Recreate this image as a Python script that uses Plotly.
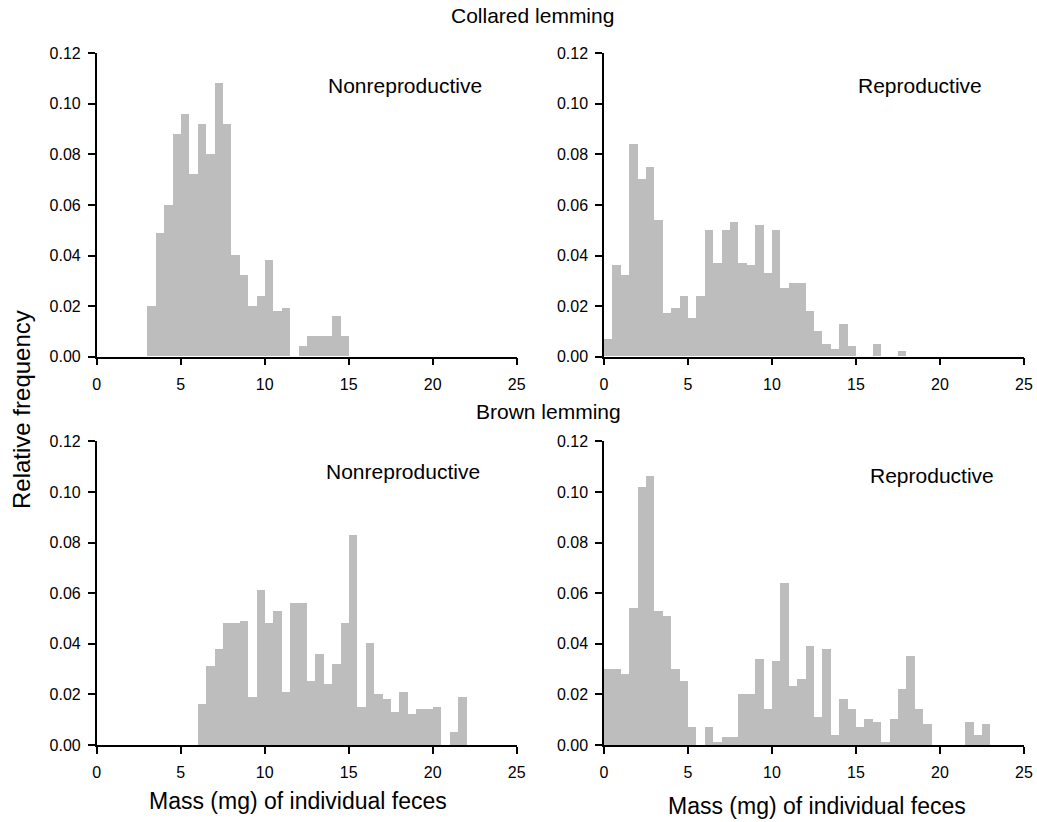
import plotly.graph_objects as go

# ---- data: relative frequency per 0.5 mg bin, bins starting at 0 mg ----
bin_width = 0.5
collared_nonrepro = [0, 0, 0, 0, 0, 0,
                     0.020, 0.049, 0.060, 0.088, 0.096, 0.072, 0.092, 0.080, 0.108, 0.092,
                     0.040, 0.032, 0.020, 0.024, 0.038, 0.018, 0.019, 0, 0.004, 0.008,
                     0.008, 0.008, 0.016, 0.008]
collared_repro = [0.007, 0.036, 0.032, 0.084, 0.070, 0.075, 0.054, 0.017, 0.019, 0.024,
                  0.015, 0.024, 0.050, 0.037, 0.050, 0.053, 0.037, 0.036, 0.052, 0.033,
                  0.050, 0.027, 0.029, 0.029, 0.018, 0.010, 0.005, 0.003, 0.013, 0.004,
                  0, 0, 0.005, 0, 0, 0.002]
brown_nonrepro = [0, 0, 0, 0, 0, 0, 0, 0, 0, 0, 0, 0,
                  0.016, 0.031, 0.038, 0.048, 0.048, 0.049, 0.019, 0.061, 0.048, 0.053,
                  0.021, 0.056, 0.056, 0.025, 0.036, 0.024, 0.032, 0.048, 0.083, 0.015,
                  0.040, 0.020, 0.018, 0.013, 0.021, 0.012, 0.014, 0.014, 0.015, 0,
                  0.005, 0.019]
brown_repro = [0.030, 0.030, 0.028, 0.054, 0.102, 0.106, 0.053, 0.051, 0.030, 0.025,
               0.007, 0, 0.007, 0.001, 0.003, 0.003, 0.020, 0.020, 0.034, 0.014,
               0.033, 0.064, 0.023, 0.026, 0.039, 0.011, 0.038, 0.004, 0.018, 0.014,
               0.007, 0.010, 0.009, 0.001, 0.010, 0.022, 0.035, 0.014, 0.008, 0,
               0, 0, 0, 0.009, 0.004, 0.008]

x_ticks = [0, 5, 10, 15, 20, 25]
y_ticks = [0.00, 0.02, 0.04, 0.06, 0.08, 0.10, 0.12]
panel_labels = ["Nonreproductive", "Reproductive", "Nonreproductive", "Reproductive"]
group_titles = ["Collared lemming", "Brown lemming"]
x_title = "Mass (mg) of individual feces"
y_title = "Relative frequency"

W, H = 1037, 822
FONT = "Liberation Sans, Arial, sans-serif"
BAR_COLOR = "#bdbdbd"

def px(x):
    return x / W

def py(y):
    return 1 - y / H

# plot-area pixel boxes (left, right, top(0.12), bottom(0))
boxes = [
    (96.7, 516.7, 53.3, 356.7),
    (604.0, 1024.0, 53.3, 356.7),
    (96.7, 516.7, 441.3, 745.0),
    (604.0, 1024.0, 441.3, 745.0),
]
series = [collared_nonrepro, collared_repro, brown_nonrepro, brown_repro]

fig = go.Figure()
layout = dict(
    width=W, height=H,
    margin=dict(l=0, r=0, t=0, b=0, autoexpand=False),
    paper_bgcolor="white", plot_bgcolor="white",
    showlegend=False, bargap=0,
    font=dict(family=FONT, color="black", size=16),
)

for i, (vals, box) in enumerate(zip(series, boxes)):
    n = i + 1
    xs = [k * bin_width + bin_width / 2 for k in range(len(vals))]
    fig.add_trace(go.Bar(
        x=xs, y=vals, width=bin_width,
        marker=dict(color=BAR_COLOR, line=dict(width=0)),
        xaxis="x" if n == 1 else f"x{n}",
        yaxis="y" if n == 1 else f"y{n}",
        hoverinfo="x+y",
    ))
    l, r, t, b = box
    xa = dict(
        domain=[px(l), px(r)], range=[0, 25], automargin=False,
        anchor="y" if n == 1 else f"y{n}",
        tickmode="array", tickvals=x_ticks, ticktext=[str(v) for v in x_ticks],
        ticks="outside", ticklen=7, tickwidth=1.5, tickcolor="black",
        showline=True, linecolor="black", linewidth=1.5,
        showgrid=False, zeroline=False,
        tickfont=dict(family=FONT, size=16, color="black"),
        ticklabelstandoff=5,
    )
    ya = dict(
        domain=[py(b), py(t)], range=[0, 0.12], automargin=False,
        anchor="x" if n == 1 else f"x{n}",
        tickmode="array", tickvals=y_ticks, ticktext=[f"{v:.2f}" for v in y_ticks],
        ticks="outside", ticklen=7, tickwidth=1.5, tickcolor="black",
        showline=True, linecolor="black", linewidth=1.5,
        showgrid=False, zeroline=False,
        tickfont=dict(family=FONT, size=16, color="black"),
        ticklabelstandoff=4,
    )
    layout["xaxis" if n == 1 else f"xaxis{n}"] = xa
    layout["yaxis" if n == 1 else f"yaxis{n}"] = ya

annotations = []
label_pos = [(405, 86), (920, 86), (403, 472), (932, 475)]
for text, (x, y) in zip(panel_labels, label_pos):
    annotations.append(dict(text=text, x=px(x), y=py(y), xref="paper", yref="paper",
                            xanchor="center", yanchor="middle", showarrow=False,
                            font=dict(family=FONT, size=21, color="black")))
for text, (x, y) in zip(group_titles, [(532, 16), (548, 411)]):
    annotations.append(dict(text=text, x=px(x), y=py(y), xref="paper", yref="paper",
                            xanchor="center", yanchor="middle", showarrow=False,
                            font=dict(family=FONT, size=21, color="black")))
for (x, y) in [(298, 801), (817, 806)]:
    annotations.append(dict(text=x_title, x=px(x), y=py(y), xref="paper", yref="paper",
                            xanchor="center", yanchor="middle", showarrow=False,
                            font=dict(family=FONT, size=23, color="black")))
annotations.append(dict(text=y_title, x=px(22), y=py(410), xref="paper", yref="paper",
                        xanchor="center", yanchor="middle", showarrow=False, textangle=-90,
                        font=dict(family=FONT, size=24, color="black")))
layout["annotations"] = annotations

fig.update_layout(**layout)
fig.write_html("out.html",
               config={"displayModeBar": False},
               post_script="document.body.style.margin='0';document.body.style.padding='0';")
